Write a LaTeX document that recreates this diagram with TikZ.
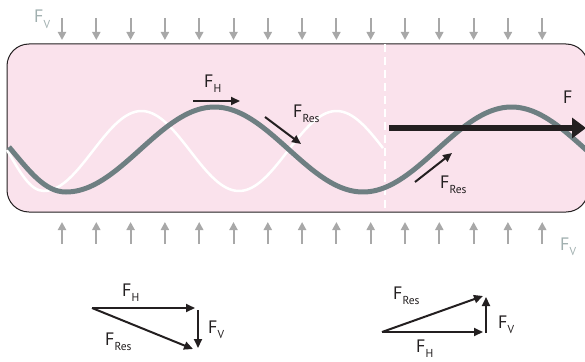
\documentclass[tikz,border=0pt]{standalone}
\usepackage{fontspec}
\setmainfont{PT Sans}
\usetikzlibrary{arrows.meta}
\definecolor{pinkbg}{RGB}{250,226,236}
\definecolor{wavegray}{RGB}{110,127,130}
\definecolor{fgray}{RGB}{168,168,168}
\definecolor{fvlab}{RGB}{160,175,175}
\definecolor{ink}{RGB}{35,31,32}
\newcommand\Fs[1]{F\raisebox{-0.3em}{\fontsize{11.5}{12}\selectfont #1}}
\begin{document}
\begin{tikzpicture}[x=1pt,y=-1pt,
 lab/.style={anchor=base west,inner sep=0pt,font=\fontsize{18}{20}\selectfont,text=ink},
 force/.style={ink,line width=2pt,-{Triangle[length=9pt,width=8pt]}},
 press/.style={fgray,line width=2pt,-{Triangle[length=8pt,width=8pt]}},
]
\useasboundingbox (0,0) rectangle (585,361);
\clip (0,0) rectangle (585,361);
% box
\draw[ink,fill=pinkbg,line width=1pt,rounded corners=22pt] (7,44) rectangle (588,212);
% pressure arrows
\foreach \i in {0,...,14}{
  \draw[press] ({62+34.3*\i},18) -- ({62+34.3*\i},40);
  \draw[press] ({62+34.3*\i},244) -- ({62+34.3*\i},222);
}
% dashed divider
\draw[white,line width=2.5pt,dash pattern=on 8pt off 5pt] (385,44) -- (385,212);
% white wave
\draw[white,line width=2.5pt] (7,150) .. controls (20,172) and (30,191) .. (44,191)
  -- plot[domain=44:383,samples=120] (\x,{151+40*cos(360/195*(\x-44))});
% gray wave
\draw[wavegray,line width=5pt] (9,147) .. controls (30,172) and (45,192) .. (66,192)
  -- plot[domain=66:592,samples=160] (\x,{149.5+42.5*cos(360/297*(\x-66))});
% big F arrow
\coordinate (fa) at (389,128);
\coordinate (fb) at (586,128);
\draw[ink,line width=5.5pt,-{Triangle[length=14pt,width=20pt]}] (fa) -- (fb);
\node[lab] (flab) at (563,103) {F};
% force arrows on the wave
\coordinate (h1a) at (193,101); \coordinate (h1b) at (240,101);
\coordinate (r1a) at (265,117); \coordinate (r1b) at (301,144);
\coordinate (r2a) at (415,182); \coordinate (r2b) at (452,153);
\draw[force] (h1a) -- (h1b);
\draw[force] (r1a) -- (r1b);
\draw[force] (r2a) -- (r2b);
\node[lab] (fhtop) at (204,87) {\Fs{H}};
\node[lab] (fr1) at (293,117) {\Fs{Res}};
\node[lab] (fr2) at (440,188) {\Fs{Res}};
% F_V labels
\node[lab,text=fvlab] (fvt) at (34,23) {\Fs{V}};
\node[lab,text=fvlab] (fvb) at (560,250) {\Fs{V}};
% bottom-left triangle
\coordinate (A) at (92,308); \coordinate (B) at (195,308);
\coordinate (C) at (198,310); \coordinate (D) at (198,348);
\coordinate (E) at (193,349);
\draw[force] (A) -- (B);
\draw[force] (C) -- (D);
\draw[force] (A) -- (E);
\node[lab] (blh) at (122,296) {\Fs{H}};
\node[lab] (blv) at (208,333) {\Fs{V}};
\node[lab] (blr) at (105,345) {\Fs{Res}};
% bottom-right triangle
\coordinate (P) at (382,332); \coordinate (Q) at (483,332);
\coordinate (R) at (486,333); \coordinate (S) at (486,297);
\coordinate (T) at (483,296);
\draw[force] (P) -- (Q);
\draw[force] (R) -- (S);
\draw[force] (P) -- (T);
\node[lab] (brr) at (393,299) {\Fs{Res}};
\node[lab] (brv) at (498,328) {\Fs{V}};
\node[lab] (brh) at (416,352) {\Fs{H}};
\end{tikzpicture}
\end{document}
